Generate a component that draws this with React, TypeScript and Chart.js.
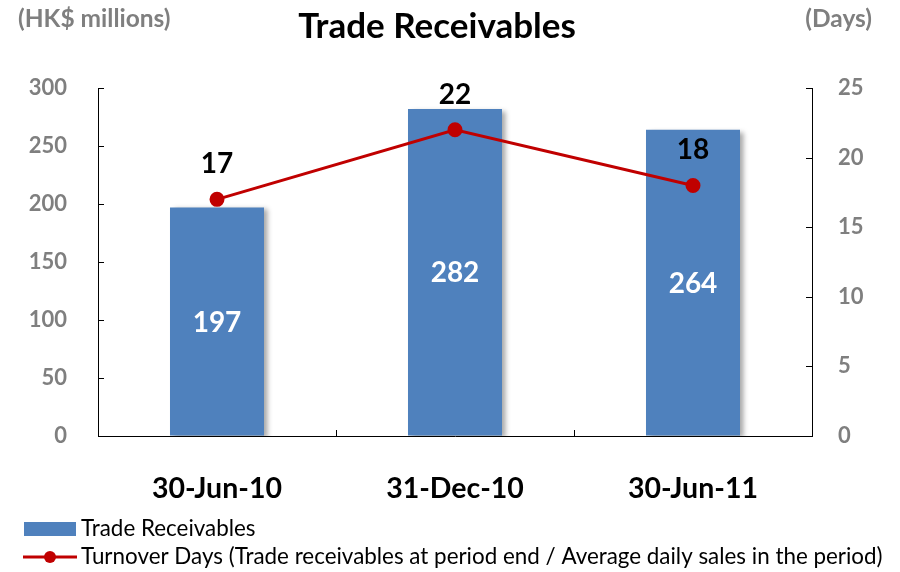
import React, { useEffect, useRef } from "react";
import { Chart, registerables } from "chart.js";

Chart.register(...registerables);

const categories = ["30-Jun-10", "31-Dec-10", "30-Jun-11"];
const receivables = [197, 282, 264];
const turnoverDays = [17, 22, 18];
const leftAxis = { min: 0, max: 300, step: 50 };
const rightAxis = { min: 0, max: 25, step: 5 };

const chartTitle = "Trade Receivables";
const leftTitle = "(HK$ millions)";
const rightTitle = "(Days)";
const barLegend = "Trade Receivables";
const lineLegend = "Turnover Days (Trade receivables at period end / Average daily sales in the period)";

const FONT = "Lato, 'Open Sans', sans-serif";
const BLUE = "#4F81BD";
const RED = "#C00000";
const GREY = "#7F7F7F";

const decorPlugin = {
  id: "decor",
  beforeDatasetDraw(chart: any, args: any) {
    if (args.index === 0) {
      const ctx = chart.ctx;
      ctx.save();
      ctx.shadowColor = "rgba(0,0,0,0.35)";
      ctx.shadowOffsetX = 4;
      ctx.shadowOffsetY = 2;
      ctx.shadowBlur = 5;
    }
  },
  afterDatasetDraw(chart: any, args: any) {
    if (args.index === 0) chart.ctx.restore();
  },
  afterDraw(chart: any) {
    const ctx = chart.ctx;
    const { left, right, bottom } = chart.chartArea;
    const yL = chart.scales.y;
    const yR = chart.scales.y1;
    const x = chart.scales.x;
    ctx.save();
    // inward ticks
    ctx.strokeStyle = "#000";
    ctx.lineWidth = 1;
    ctx.beginPath();
    for (let v = leftAxis.min; v <= leftAxis.max; v += leftAxis.step) {
      const py = Math.round(yL.getPixelForValue(v)) + 0.5;
      ctx.moveTo(left, py);
      ctx.lineTo(left + 6, py);
    }
    for (let v = rightAxis.min; v <= rightAxis.max; v += rightAxis.step) {
      const py = Math.round(yR.getPixelForValue(v)) + 0.5;
      ctx.moveTo(right, py);
      ctx.lineTo(right - 6, py);
    }
    for (let i = 1; i < categories.length; i++) {
      const px = Math.round((x.getPixelForValue(i - 1) + x.getPixelForValue(i)) / 2) + 0.5;
      ctx.moveTo(px, bottom);
      ctx.lineTo(px, bottom - 6);
    }
    ctx.stroke();

    // titles
    ctx.textBaseline = "middle";
    ctx.fillStyle = "#000";
    ctx.font = `bold 35px ${FONT}`;
    ctx.textAlign = "center";
    ctx.fillText(chartTitle, 437, 27);
    ctx.fillStyle = GREY;
    ctx.font = `bold 24.5px ${FONT}`;
    ctx.textAlign = "left";
    ctx.fillText(leftTitle, 18, 19);
    ctx.textAlign = "right";
    ctx.fillText(rightTitle, 872, 19);

    // data labels
    ctx.textAlign = "center";
    ctx.font = `bold 28px ${FONT}`;
    const barMeta = chart.getDatasetMeta(0);
    barMeta.data.forEach((el: any, i: number) => {
      ctx.fillStyle = "#fff";
      ctx.fillText(String(receivables[i]), el.x, (el.y + el.base) / 2 + 1);
    });
    const lineMeta = chart.getDatasetMeta(1);
    lineMeta.data.forEach((el: any, i: number) => {
      ctx.fillStyle = "#000";
      ctx.fillText(String(turnoverDays[i]), el.x, el.y - 35);
    });

    // legend
    ctx.fillStyle = BLUE;
    ctx.fillRect(24, 522, 52, 14);
    ctx.fillStyle = "#000";
    ctx.font = `22.4px ${FONT}`;
    ctx.textAlign = "left";
    ctx.fillText(barLegend, 81, 529);
    ctx.strokeStyle = RED;
    ctx.lineWidth = 3;
    ctx.beginPath();
    ctx.moveTo(23, 557);
    ctx.lineTo(77, 557);
    ctx.stroke();
    ctx.fillStyle = RED;
    ctx.beginPath();
    ctx.arc(50, 557, 6, 0, Math.PI * 2);
    ctx.fill();
    ctx.fillStyle = "#000";
    ctx.fillText(lineLegend, 81, 557);
    ctx.restore();
  },
};

export default function App() {
  const ref = useRef<HTMLCanvasElement>(null);
  useEffect(() => {
    document.body.style.margin = "0";
    const chart = new Chart(ref.current!, {
      type: "bar",
      data: {
        labels: categories,
        datasets: [
          {
            type: "bar",
            label: barLegend,
            data: receivables,
            backgroundColor: BLUE,
            yAxisID: "y",
            categoryPercentage: 1,
            barPercentage: 0.395,
            order: 1,
          },
          {
            type: "line",
            label: lineLegend,
            data: turnoverDays,
            borderColor: RED,
            backgroundColor: RED,
            borderWidth: 3,
            pointRadius: 6,
            pointBackgroundColor: RED,
            pointBorderColor: RED,
            yAxisID: "y1",
            order: 0,
          } as any,
        ],
      },
      options: {
        responsive: false,
        animation: false,
        layout: { padding: { top: 88, bottom: 66, left: 0, right: 0 } },
        plugins: { legend: { display: false }, tooltip: { enabled: false }, title: { display: false } },
        scales: {
          x: {
            grid: { display: true, drawOnChartArea: false, drawTicks: false },
            border: { display: true, color: "#000", width: 1 },
            ticks: { color: "#000", font: { family: FONT, size: 28.5, weight: "bold" }, padding: 36 },
            afterFit: (s: any) => { s.height = 70; },
          },
          y: {
            position: "left",
            min: leftAxis.min,
            max: leftAxis.max,
            grid: { display: true, drawOnChartArea: false, drawTicks: false },
            border: { display: true, color: "#000", width: 1 },
            ticks: { stepSize: leftAxis.step, color: GREY, font: { family: FONT, size: 22, weight: "bold" }, padding: 31 },
            afterFit: (s: any) => { s.width = 98; },
          },
          y1: {
            position: "right",
            min: rightAxis.min,
            max: rightAxis.max,
            grid: { display: true, drawOnChartArea: false, drawTicks: false },
            border: { display: true, color: "#000", width: 1 },
            ticks: { stepSize: rightAxis.step, color: GREY, font: { family: FONT, size: 22, weight: "bold" }, padding: 26 },
            afterFit: (s: any) => { s.width = 88; },
          },
        },
      },
      plugins: [decorPlugin],
    });
    return () => chart.destroy();
  }, []);
  return (
    <div style={{ position: "fixed", left: 0, top: 0, width: 900, height: 572, background: "#fff" }}>
      <canvas ref={ref} width={900} height={572} />
    </div>
  );
}
